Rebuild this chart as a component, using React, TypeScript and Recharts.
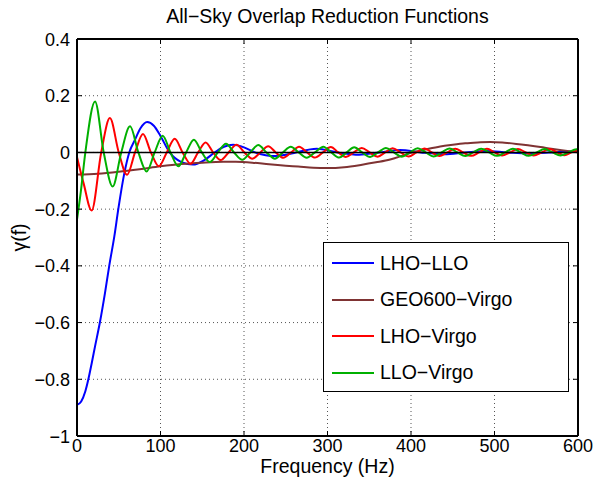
import React from 'react';
import { LineChart, Line, XAxis, YAxis, CartesianGrid, ReferenceLine } from 'recharts';

// ---- Data ----
const lhoLloFreq = [0, 5, 10, 13.6, 17.5, 21.6, 27.5, 33.5, 38.7, 44.7, 49.5, 56.7, 62.6, 69.5, 76, 84, 92, 100, 111, 125, 139, 152, 165, 176, 187, 200, 213, 226, 238, 250, 262, 287, 312, 338, 362, 387, 412, 440, 465, 490, 515, 540, 565, 590, 600];
const lhoLloGamma = [-0.89, -0.878, -0.842, -0.8, -0.745, -0.684, -0.598, -0.496, -0.398, -0.296, -0.199, -0.073, 0, 0.045, 0.085, 0.107, 0.094, 0.058, 0, -0.034, -0.043, -0.028, 0, 0.02, 0.027, 0.018, 0, -0.01, -0.013, -0.008, 0, 0.013, 0, -0.008, 0, 0.009, 0, -0.006, 0, 0.005, 0, -0.004, 0, 0.003, 0.002];

const geoVirgoFreq = [0, 25, 50, 75, 100, 125, 150, 175, 190, 210, 230, 250, 265, 283, 300, 320, 340, 358, 375, 388, 399, 417, 435, 450, 465, 480, 495, 512, 526, 540, 555, 568, 585, 600];
const geoVirgoGamma = [-0.078, -0.075, -0.068, -0.059, -0.049, -0.041, -0.036, -0.033, -0.033, -0.036, -0.042, -0.047, -0.05, -0.054, -0.055, -0.052, -0.044, -0.035, -0.025, -0.013, -0.002, 0.01, 0.021, 0.027, 0.032, 0.035, 0.037, 0.034, 0.03, 0.025, 0.019, 0.013, 0.006, 0];

const lhoVirgoFreq = [0, 8, 17.5, 29, 39.4, 50, 60, 69.5, 79, 88.5, 98, 107.5, 117, 126.5, 136, 145, 154, 163, 172, 181.5, 191, 200.5, 210, 219.5, 229, 238, 247, 256.5, 266, 275.5, 285, 294.5, 304, 313, 322, 331.5, 341, 350.5, 360, 369, 378, 387.5, 397, 406.5, 416, 425, 434, 443.5, 453, 462.5, 472, 481.5, 491, 500, 509, 518.5, 528, 537.5, 547, 556.5, 566, 575, 584, 592, 600];
const lhoVirgoGamma = [-0.016, -0.11, -0.205, 0, 0.121, 0, -0.079, 0, 0.065, 0, -0.049, 0, 0.048, 0, -0.04, 0, 0.035, 0, -0.027, 0, 0.027, 0, -0.022, 0, 0.022, 0, -0.019, 0, 0.02, 0, -0.018, 0, 0.019, 0, -0.016, 0, 0.016, 0, -0.015, 0, 0.015, 0, -0.014, 0, 0.014, 0, -0.013, 0, 0.013, 0, -0.012, 0, 0.013, 0, -0.011, 0, 0.012, 0, -0.011, 0, 0.012, 0, -0.01, 0, 0.008];

const lloVirgoFreq = [0, 4.5, 10, 21.6, 32, 42.7, 53, 63.5, 73.5, 83.4, 93, 102.6, 112, 121.4, 130.7, 140, 149.5, 159, 168.7, 178.4, 188, 198, 207.5, 217, 227, 237, 246.5, 256, 265.5, 275, 285, 295, 304.5, 314, 323, 332, 341.5, 351, 360.5, 370, 379.5, 389, 398.5, 408, 417.5, 427, 436.5, 446, 455.5, 465, 474.5, 484, 493.5, 503, 512.5, 522, 531.5, 541, 550.5, 560, 569.5, 579, 588.5, 598, 600];
const lloVirgoGamma = [-0.237, -0.14, 0, 0.18, 0, -0.12, 0, 0.092, 0, -0.067, 0, 0.059, 0, -0.049, 0, 0.045, 0, -0.034, 0, 0.031, 0, -0.026, 0, 0.026, 0, -0.022, 0, 0.02, 0, -0.019, 0, 0.02, 0, -0.018, 0, 0.018, 0, -0.016, 0, 0.016, 0, -0.015, 0, 0.015, 0, -0.014, 0, 0.014, 0, -0.013, 0, 0.013, 0, -0.012, 0, 0.013, 0, -0.012, 0, 0.012, 0, -0.011, 0, 0.011, 0.011];

const xTicks = [0, 100, 200, 300, 400, 500, 600];
const yTicks = [-1, -0.8, -0.6, -0.4, -0.2, 0, 0.2, 0.4];
const seriesNames = ['LHO\u2212LLO', 'GEO600\u2212Virgo', 'LHO\u2212Virgo', 'LLO\u2212Virgo'];
const seriesColors = ['#0000FF', '#7F3333', '#FF0000', '#00B000'];
const titleText = 'All\u2212Sky Overlap Reduction Functions';
const xLabelText = 'Frequency (Hz)';
const yLabelText = '\u03B3(f)';

// ---- Layout ----
const W = 598;
const H = 482;
const PL = 77;
const PR = 578;
const PT = 39;
const PB = 436;
const FONT = '"Liberation Sans", Arial, Helvetica, sans-serif';
const TICK_FS = 18;
const LABEL_FS = 19.5;

const zip = (f: number[], g: number[]) => f.map((x, i) => ({ f: x, g: g[i] }));
const seriesData = [
  zip(lhoLloFreq, lhoLloGamma),
  zip(geoVirgoFreq, geoVirgoGamma),
  zip(lhoVirgoFreq, lhoVirgoGamma),
  zip(lloVirgoFreq, lloVirgoGamma),
];

const fmt = (v: number) => {
  if (v === 0) return '0';
  const s = String(Math.round(Math.abs(v) * 10) / 10);
  return (v < 0 ? '\u2212' : '') + s;
};

const YTick = (props: any) => {
  const { x, y, payload } = props;
  return (
    <g>
      <line x1={PL} x2={PL + 5} y1={y} y2={y} stroke="#000" strokeWidth={1} />
      <line x1={PR - 5} x2={PR} y1={y} y2={y} stroke="#000" strokeWidth={1} />
      <text x={x} y={y} dy={6.5} textAnchor="end" fontSize={TICK_FS} fontFamily={FONT} fill="#000">
        {fmt(payload.value)}
      </text>
    </g>
  );
};

const XTick = (props: any) => {
  const { x, y, payload } = props;
  return (
    <g>
      <line x1={x} x2={x} y1={PB} y2={PB - 5} stroke="#000" strokeWidth={1} />
      <line x1={x} x2={x} y1={PT} y2={PT + 5} stroke="#000" strokeWidth={1} />
      <text x={x} y={y} dy={16} textAnchor="middle" fontSize={TICK_FS} fontFamily={FONT} fill="#000">
        {fmt(payload.value)}
      </text>
    </g>
  );
};

const LegendBox = () => (
  <div
    style={{
      position: 'absolute',
      left: 323,
      top: 242,
      width: 246,
      height: 150,
      boxSizing: 'border-box',
      border: '1.5px solid #000',
      background: '#fff',
      paddingTop: 2,
      fontFamily: FONT,
      fontSize: LABEL_FS,
      color: '#000',
    }}
  >
    {seriesNames.map((name, i) => (
      <div key={name} style={{ height: 36.5, display: 'flex', alignItems: 'center' }}>
        <svg width={56} height={4} style={{ flex: 'none' }}>
          <line x1={8} x2={50} y1={2} y2={2} stroke={seriesColors[i]} strokeWidth={2} />
        </svg>
        <span style={{ whiteSpace: 'nowrap' }}>{name}</span>
      </div>
    ))}
  </div>
);

export default function App() {
  return (
    <div style={{ position: 'absolute', left: 0, top: 0, width: W, height: H, background: '#fff' }}>
      <div
        style={{
          position: 'absolute',
          left: PL,
          width: PR - PL,
          top: 5,
          textAlign: 'center',
          fontFamily: FONT,
          fontSize: LABEL_FS,
          color: '#000',
          whiteSpace: 'nowrap',
        }}
      >
        {titleText}
      </div>
      <LineChart
        width={W}
        height={H}
        margin={{ top: PT, right: W - PR, left: 0, bottom: 0 }}
        style={{ position: 'absolute', left: 0, top: 0 }}
      >
        <CartesianGrid stroke="#555" strokeDasharray="1 3" strokeWidth={1} />
        <XAxis
          dataKey="f"
          type="number"
          domain={[0, 600]}
          ticks={xTicks}
          allowDataOverflow
          height={H - PB}
          tickSize={0}
          tickMargin={0}
          tick={<XTick />}
          tickLine={false}
          axisLine={{ stroke: '#000', strokeWidth: 2 }}
          label={{
            value: xLabelText,
            position: 'insideBottom',
            offset: 9,
            style: { fontSize: LABEL_FS, fontFamily: FONT, fill: '#000' },
          }}
        />
        <YAxis
          type="number"
          domain={[-1, 0.4]}
          ticks={yTicks}
          allowDataOverflow
          width={PL}
          tickSize={0}
          tickMargin={7}
          tick={<YTick />}
          tickLine={false}
          axisLine={{ stroke: '#000', strokeWidth: 2 }}
          label={{
            value: yLabelText,
            angle: -90,
            position: 'insideLeft',
            offset: 19,
            style: { fontSize: LABEL_FS, fontFamily: FONT, fill: '#000', textAnchor: 'middle' },
          }}
        />
        {seriesData.map((d, i) => (
          <Line
            key={seriesNames[i]}
            data={d}
            dataKey="g"
            type="monotone"
            stroke={seriesColors[i]}
            strokeWidth={2}
            dot={false}
            activeDot={false}
            isAnimationActive={false}
          />
        ))}
        <ReferenceLine y={0} stroke="#000" strokeWidth={1.5} />
        <ReferenceLine y={0.4} stroke="#000" strokeWidth={2} />
        <ReferenceLine x={600} stroke="#000" strokeWidth={2} />
      </LineChart>
      <LegendBox />
    </div>
  );
}
